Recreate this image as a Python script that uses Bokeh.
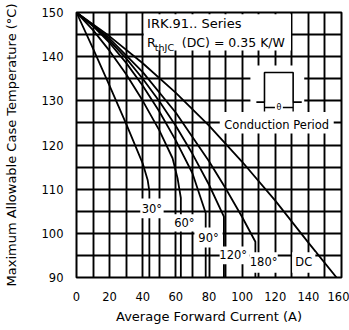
from bokeh.plotting import figure
from bokeh.models import SingleIntervalTicker, Range1d
from bokeh.core.properties import value
from bokeh.embed import file_html
from bokeh.resources import INLINE

# ---- data ----
curve_labels = ["30°", "60°", "90°", "120°", "180°", "DC"]

i_30 = [0, 10, 20, 30, 40, 43, 44, 44]
t_30 = [150, 141.8, 133.4, 124.8, 115.8, 112.0, 109.5, 90]
i_60 = [0, 10, 20, 30, 40, 50, 58, 61, 63, 63]
t_60 = [150, 146.0, 141.3, 136.0, 130.0, 123.3, 117.0, 112.5, 108.0, 90]
i_90 = [0, 10, 20, 30, 40, 50, 60, 70, 78, 78]
t_90 = [150, 146.9, 143.1, 138.6, 133.4, 127.6, 121.0, 113.6, 104.6, 90]
i_120 = [0, 10, 20, 30, 40, 50, 60, 70, 80, 89, 89]
t_120 = [150, 147.1, 143.6, 139.6, 135.0, 129.9, 124.3, 118.0, 111.0, 103.8, 90]
i_180 = [0, 20, 40, 60, 80, 90, 100, 108, 108]
t_180 = [150, 144.1, 136.5, 127.3, 116.3, 110.2, 103.7, 98.1, 90]
i_dc = [0, 20, 40, 60, 80, 100, 120, 140, 157]
t_dc = [150, 144.6, 138.5, 131.8, 124.4, 116.2, 107.4, 97.9, 90]

x_title = "Average Forward Current (A)"
y_title = "Maximum Allowable Case Temperature (°C)"
series_title = "IRK.91.. Series"
rth_text = "(DC) = 0.35 K/W"
period_text = "Conduction Period"

FONT = "DejaVu Sans"

p = figure(width=349, height=330, output_backend="svg", toolbar_location=None,
           x_range=Range1d(0, 160), y_range=Range1d(90, 150),
           min_border_left=67, min_border_right=8, min_border_top=12, min_border_bottom=53)
p.background_fill_color = "white"
p.border_fill_color = "white"
p.outline_line_color = "black"
p.outline_line_width = 2

p.xaxis.ticker = SingleIntervalTicker(interval=20)
p.yaxis.ticker = SingleIntervalTicker(interval=10)
p.xgrid.ticker = SingleIntervalTicker(interval=10)
p.ygrid.ticker = SingleIntervalTicker(interval=5)
for g in (p.xgrid, p.ygrid):
    g.grid_line_color = "black"
    g.grid_line_width = 1.9
    g.grid_line_alpha = 1.0

for ax in (p.xaxis, p.yaxis):
    ax.axis_line_color = None
    ax.major_tick_line_color = None
    ax.minor_tick_line_color = None
    ax.major_label_text_font = FONT
    ax.major_label_text_font_size = "11.5px"
    ax.major_label_text_color = "black"
    ax.axis_label_text_font = FONT
    ax.axis_label_text_font_size = "13px"
    ax.axis_label_text_font_style = "normal"
    ax.axis_label_text_color = "black"
p.xaxis.axis_label = x_title
p.yaxis.axis_label = y_title
p.xaxis.major_label_standoff = 8
p.yaxis.major_label_standoff = 7
p.xaxis.axis_label_standoff = 5
p.yaxis.axis_label_standoff = 20

# ---- curves ----
for xs, ys in ((i_30, t_30), (i_60, t_60), (i_90, t_90), (i_120, t_120), (i_180, t_180), (i_dc, t_dc)):
    p.line(xs, ys, line_color="black", line_width=1.8)

# ---- white cut-outs over the grid ----
boxes = [
    (40.6, 129.5, 141.4, 149.6),   # title block
    (105.0, 137.5, 127.5, 138.0),  # conduction icon
    (86.5, 155.3, 122.6, 127.5),   # "Conduction Period"
    (38.5, 52.6, 103.4, 107.9),    # 30°
    (57.8, 72.4, 100.4, 104.3),    # 60°
    (71.2, 88.2, 96.8, 101.3),     # 90°
    (86.4, 104.5, 93.0, 97.0),     # 120°
    (104.5, 121.5, 91.1, 95.7),    # 180°
    (130.2, 144.2, 91.1, 95.7),    # DC
]
p.quad(left=[b[0] for b in boxes], right=[b[1] for b in boxes],
       bottom=[b[2] for b in boxes], top=[b[3] for b in boxes],
       fill_color="white", line_color=None)

# ---- conduction period icon ----
p.line([108.6, 113.5, 113.5, 130.8, 130.8, 136.0], [129.7, 129.7, 136.4, 136.4, 129.7, 129.7],
       line_color="black", line_width=1.6)
p.multi_line([[113.5, 113.5], [130.8, 130.8], [113.5, 119.8], [124.6, 130.8]],
             [[129.7, 127.6], [129.7, 127.6], [128.5, 128.5], [128.5, 128.5]],
             line_color="black", line_width=1.4)
p.text(x=[122.2], y=[128.5], text=["θ"], text_font=value(FONT), text_font_size="8px",
       text_align="center", text_baseline="middle", text_color="black")

# ---- texts ----
def put(x, y, s, size="11.5px", align="center"):
    p.text(x=[x], y=[y], text=[s], text_font=value(FONT), text_font_size=size,
           text_align=align, text_baseline="middle", text_color="black")

put(42.6, 147.4, series_title, "13px", "left")
put(42.6, 143.2, "R", "12.5px", "left")
put(47.3, 142.1, "thJC", "9.5px", "left")
put(63.6, 143.2, rth_text, "12.5px", "left")
put(120.9, 124.5, period_text, "11.5px")

label_pos = [(45.5, 105.4), (65.1, 102.3), (79.7, 99.0), (94.6, 95.2), (113.0, 93.4), (137.2, 93.4)]
for (x, y), s in zip(label_pos, curve_labels):
    put(x, y, s, "11.5px")

open("out.html", "w").write(file_html(p, INLINE))
